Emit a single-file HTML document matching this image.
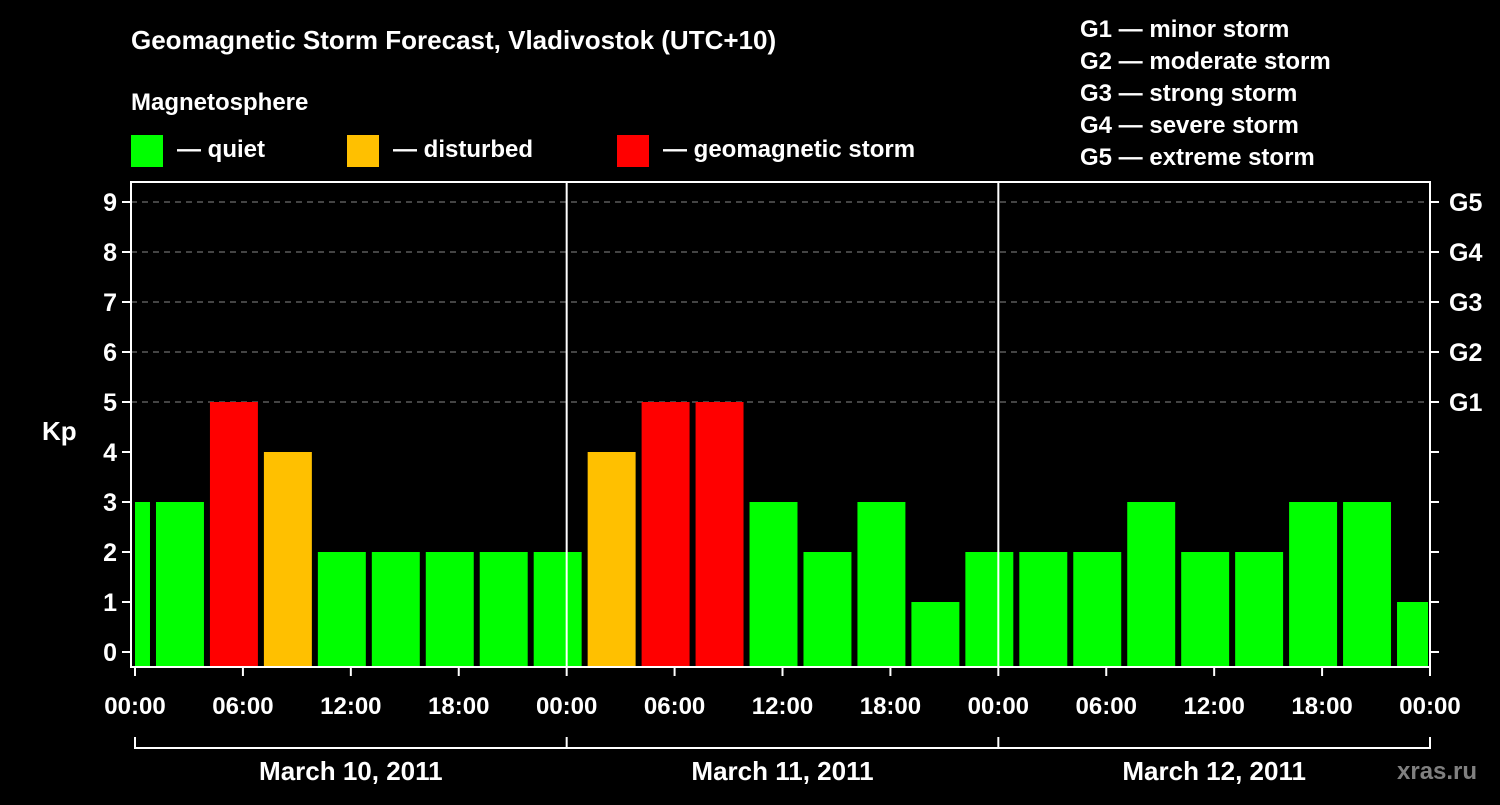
<!DOCTYPE html>
<html><head><meta charset="utf-8"><style>
body{margin:0;background:#000;width:1500px;height:800px;overflow:hidden}
svg text{font-family:"Liberation Sans",Arial,sans-serif;font-weight:bold;fill:#fff}
</style></head><body>
<svg id="chart" width="1500" height="800" viewBox="0 0 1500 800" xmlns="http://www.w3.org/2000/svg">
<rect width="1500" height="800" fill="#000"/>
<text x="131" y="49" font-size="26">Geomagnetic Storm Forecast, Vladivostok (UTC+10)</text>
<text x="131" y="110" font-size="24">Magnetosphere</text>
<g><rect x="131" y="135" width="32" height="32" fill="#00ff00"/><text x="177" y="157" font-size="24">— quiet</text></g>
<g><rect x="347" y="135" width="32" height="32" fill="#ffc000"/><text x="393" y="157" font-size="24">— disturbed</text></g>
<g><rect x="617" y="135" width="32" height="32" fill="#ff0000"/><text x="663" y="157" font-size="24">— geomagnetic storm</text></g>
<g font-size="24">
<text x="1080" y="37">G1 — minor storm</text>
<text x="1080" y="69">G2 — moderate storm</text>
<text x="1080" y="101">G3 — strong storm</text>
<text x="1080" y="133">G4 — severe storm</text>
<text x="1080" y="165">G5 — extreme storm</text>
</g>
<text x="42" y="440" font-size="26">Kp</text>
<text x="1397" y="779" font-size="24" style="fill:#808080">xras.ru</text>
<g id="grid"></g><g id="bars"></g><g id="axes"></g>
</svg>
<script>
const binStarts=[-2,1,4,7,10,13,16,19,22,25,28,31,34,37,40,43,46,49,52,55,58,61,64,67,70];
const kpValues=[3,3,5,4,2,2,2,2,2,4,5,5,3,2,3,1,2,2,2,3,2,2,3,3,1];
const yTicks=[0,1,2,3,4,5,6,7,8,9];
const gLabels=["G1","G2","G3","G4","G5"];
const xTickLabels=["00:00","06:00","12:00","18:00","00:00","06:00","12:00","18:00","00:00","06:00","12:00","18:00","00:00"];
const dayLabels=["March 10, 2011","March 11, 2011","March 12, 2011"];
const NS="http://www.w3.org/2000/svg";
const X0=135,PX=1295/72,L=131,R=1430,T=182,B=667;
const x=h=>X0+h*PX, y=v=>652-v*50;
function mk(tag,attrs,parent,txt){const e=document.createElementNS(NS,tag);for(const k in attrs)e.setAttribute(k,attrs[k]);if(txt!==undefined)e.textContent=txt;parent.appendChild(e);return e;}
const grid=document.getElementById('grid'),bars=document.getElementById('bars'),axes=document.getElementById('axes');
for(let v=5;v<=9;v++){const l=mk('line',{x1:L,x2:R,y1:y(v),y2:y(v),stroke:'#888','stroke-width':1,'stroke-dasharray':'6,5'},grid);

}
binStarts.forEach((s,i)=>{const v=kpValues[i];
let a=Math.max(x(s)+3,X0),b=Math.min(x(s+3)-3,R-2);
const c=v>=5?'#ff0000':v==4?'#ffc000':'#00ff00';
const r=mk('rect',{x:a,y:y(v),width:b-a,height:B-y(v),fill:c},bars);

});
const frame=mk('rect',{x:L,y:T,width:R-L,height:B-T,fill:'none',stroke:'#fff','stroke-width':2},axes);


[24,48].forEach(h=>{const l=mk('line',{x1:x(h),x2:x(h),y1:T,y2:B,stroke:'#fff','stroke-width':2},axes);

});
yTicks.forEach(v=>{mk('line',{x1:L-9,x2:L,y1:y(v),y2:y(v),stroke:'#fff','stroke-width':2},axes);
mk('line',{x1:R,x2:R+9,y1:y(v),y2:y(v),stroke:'#fff','stroke-width':2},axes);
const t=mk('text',{x:L-14,y:y(v)+9,'font-size':25,'text-anchor':'end'},axes,String(v));

});
gLabels.forEach((g,i)=>{const t=mk('text',{x:R+19,y:y(5+i)+9,'font-size':25},axes,g);

});
xTickLabels.forEach((lab,i)=>{const h=i*6;mk('line',{x1:x(h),x2:x(h),y1:B,y2:B+9,stroke:'#fff','stroke-width':2},axes);
const t=mk('text',{x:x(h),y:714,'font-size':24,'text-anchor':'middle'},axes,lab);

});
mk('line',{x1:X0,x2:R,y1:748,y2:748,stroke:'#fff','stroke-width':2},axes);
[0,24,48,72].forEach(h=>mk('line',{x1:x(h),x2:x(h),y1:737,y2:749,stroke:'#fff','stroke-width':2},axes));
dayLabels.forEach((d,i)=>{const t=mk('text',{x:x(i*24+12),y:780,'font-size':26,'text-anchor':'middle'},axes,d);

});
</script>
</body></html>
